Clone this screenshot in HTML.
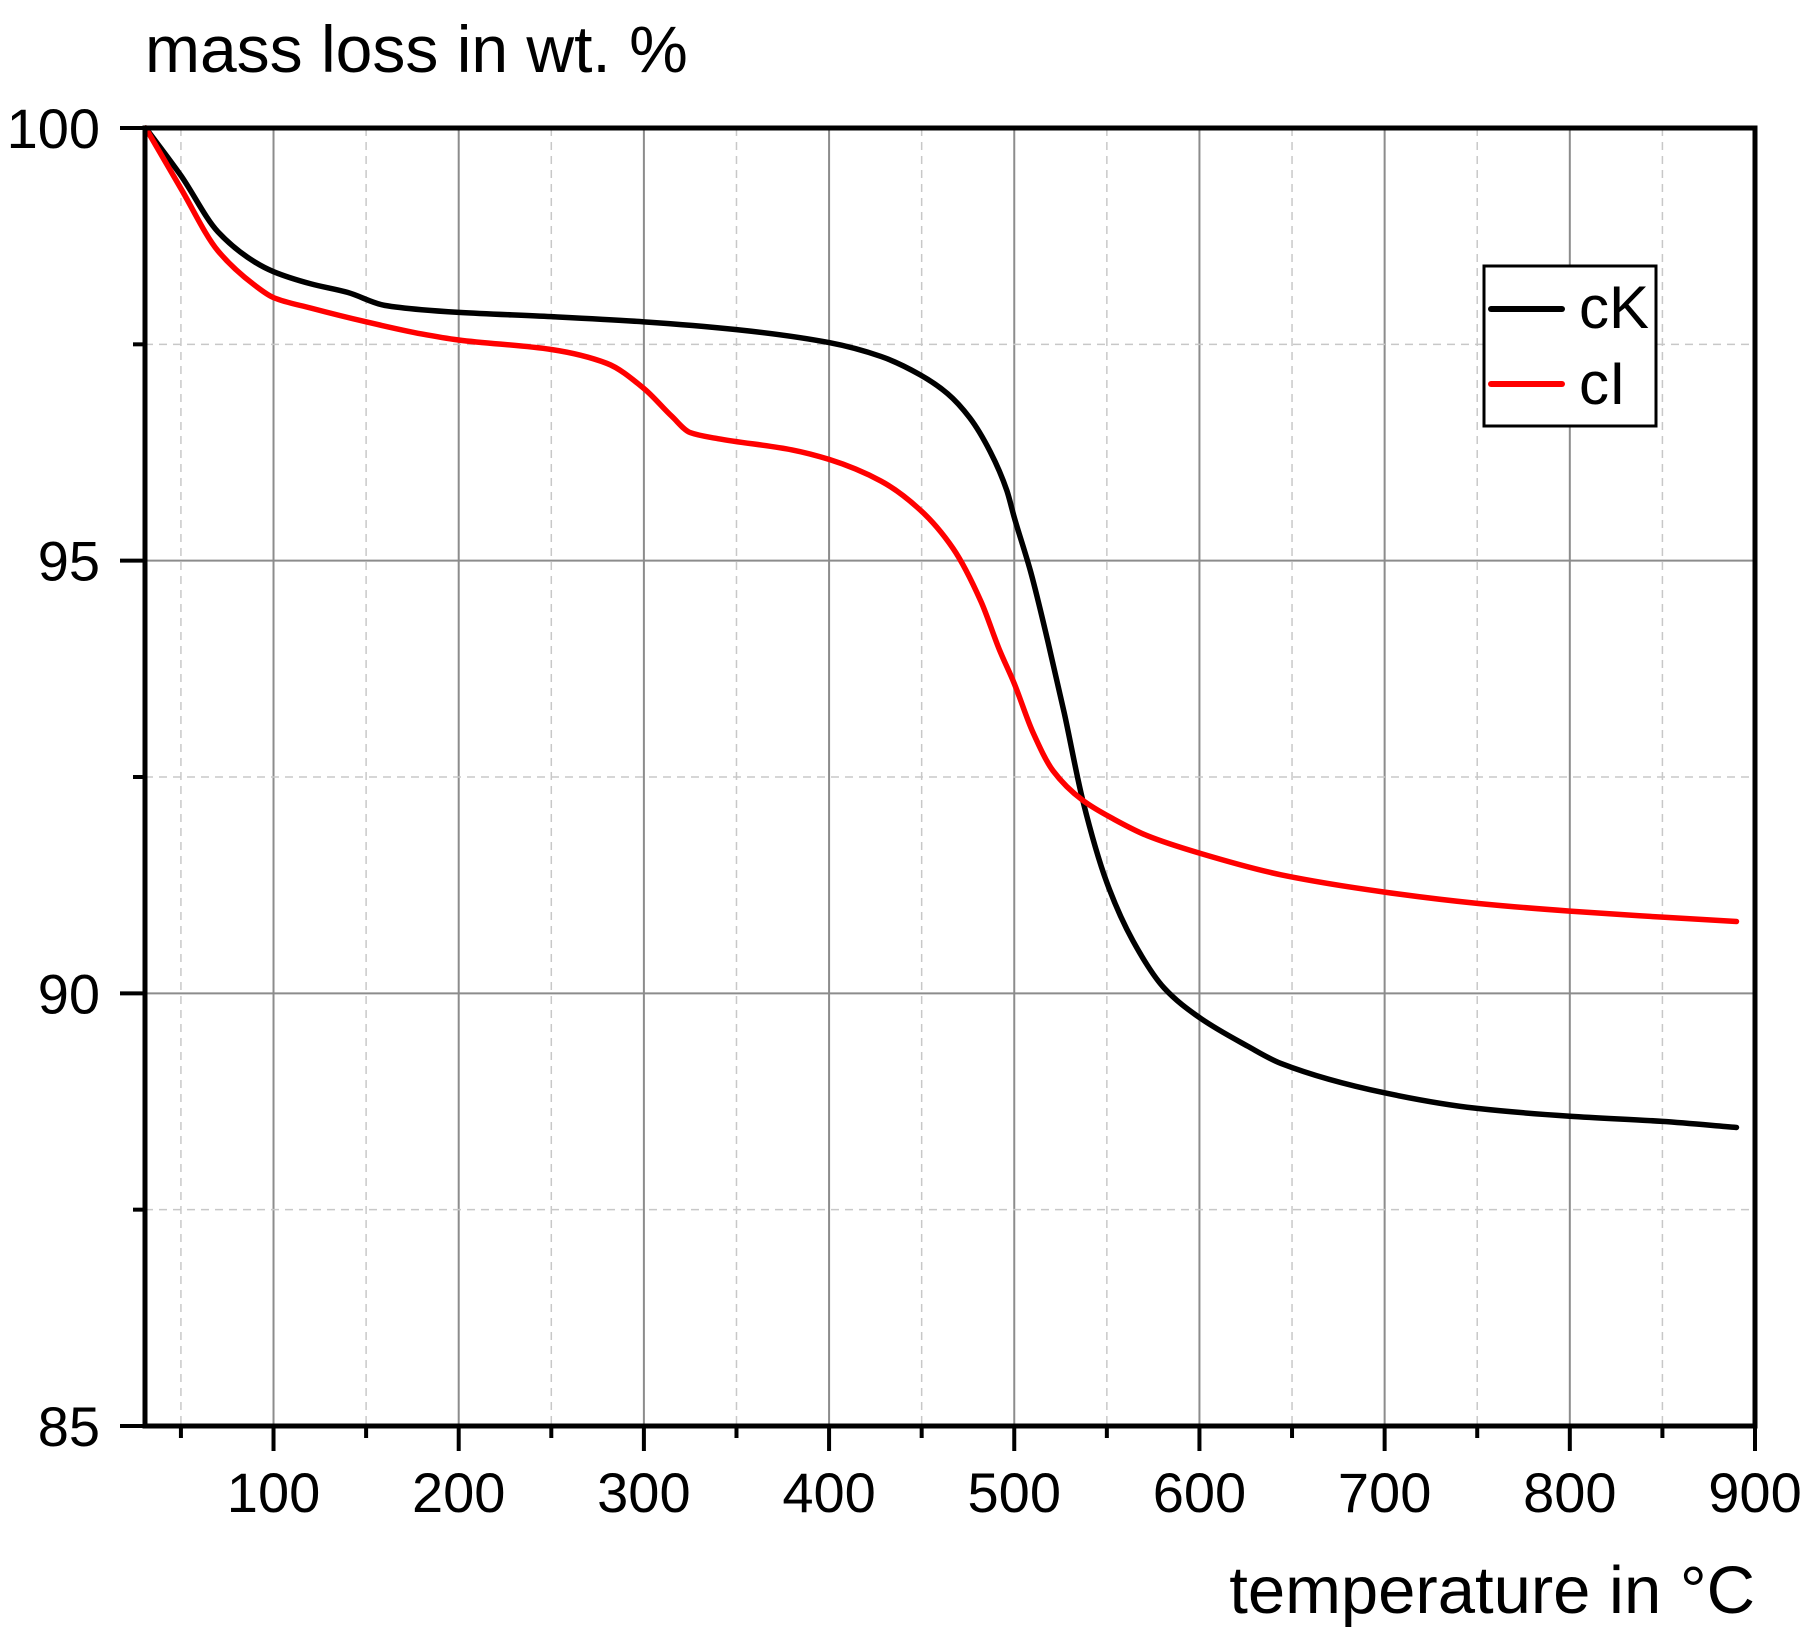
<!DOCTYPE html>
<html><head><meta charset="utf-8"><style>
html,body{margin:0;padding:0;background:#fff;}
svg{display:block;font-family:"Liberation Sans",Arial,sans-serif;}
</style></head><body>
<svg id="chart" width="1819" height="1648" viewBox="0 0 1819 1648" xmlns="http://www.w3.org/2000/svg">
<g id="grid"></g>
<g id="series"></g>
<g id="axes"></g>
<text x="145" y="72" font-size="66">mass loss in wt. %</text>
<text x="1755" y="1613" font-size="67" text-anchor="end">temperature in °C</text>
<g>
<rect x="1484" y="266" width="172" height="160" fill="#fff" stroke="#000" stroke-width="3"/>
<line x1="1491" y1="309" x2="1562" y2="309" stroke="#000" stroke-width="6" stroke-linecap="round"/>
<text x="1579" y="328" font-size="60">cK</text>
<line x1="1491" y1="384" x2="1562" y2="384" stroke="#f00" stroke-width="6" stroke-linecap="round"/>
<text x="1579" y="404" font-size="60">cI</text>
</g>
</svg>
<script>
const xTicks=[100,200,300,400,500,600,700,800,900];
const yTicks=[85,90,95,100];
const temps=[31,50,70,90,100,120,140,160,180,200,250,300,350,400,428,449,464,476,487,496,500,509,518,527,537,550,564,581,600,626,644,700,750,800,850,890];
const massCK=[100,99.45,98.8,98.45,98.34,98.2,98.1,97.95,97.9,97.87,97.82,97.76,97.67,97.52,97.36,97.15,96.93,96.65,96.26,95.81,95.5,94.86,94.08,93.24,92.23,91.28,90.61,90.06,89.72,89.39,89.19,88.85,88.67,88.58,88.52,88.45];
const tempsCI=[31,50,70,90,100,120,150,180,200,250,280,300,315,325,340,380,400,428,449,467,482,492,500,510,521,537,554,572,600,644,700,750,800,850,890];
const massCI=[100,99.3,98.58,98.18,98.04,97.92,97.76,97.62,97.55,97.44,97.28,96.99,96.67,96.48,96.41,96.28,96.17,95.92,95.59,95.14,94.53,93.97,93.58,93.02,92.57,92.23,92.01,91.82,91.62,91.37,91.17,91.04,90.95,90.88,90.83];

const L=145,R=1755,T=128,B=1426,XMIN=30.6,XMAX=900,YMIN=85,YMAX=100;
const sx=v=>L+(v-XMIN)/(XMAX-XMIN)*(R-L);
const sy=v=>B-(v-YMIN)/(YMAX-YMIN)*(B-T);
const NS='http://www.w3.org/2000/svg';
function mk(tag,parent,attrs){const e=document.createElementNS(NS,tag);for(const k in attrs)e.setAttribute(k,attrs[k]);parent.appendChild(e);return e;}
const grid=document.getElementById('grid'),axes=document.getElementById('axes'),series=document.getElementById('series');

for(let v=50;v<=850;v+=50){
  const major=v%100===0;
  const l=mk('line',grid,{x1:sx(v),x2:sx(v),y1:T,y2:B,stroke:major?'#8c8c8c':'#c8c8c8','stroke-width':major?2:1.5,'stroke-dasharray':major?'none':'8 6'});
  
  
}
for(let v=87.5;v<100;v+=2.5){
  const major=v%5===0;
  const l=mk('line',grid,{x1:L,x2:R,y1:sy(v),y2:sy(v),stroke:major?'#8c8c8c':'#c8c8c8','stroke-width':major?2:1.5,'stroke-dasharray':major?'none':'8 6'});
  
  
}
// monotone cubic (Fritsch-Carlson) interpolation in data space
function monotonePath(xs,ys){
  const n=xs.length,d=[],m=new Array(n);
  for(let i=0;i<n-1;i++)d.push((ys[i+1]-ys[i])/(xs[i+1]-xs[i]));
  m[0]=d[0];m[n-1]=d[n-2];
  for(let i=1;i<n-1;i++){
    if(d[i-1]*d[i]<=0)m[i]=0;
    else{const w1=2*(xs[i+1]-xs[i])+(xs[i]-xs[i-1]),w2=(xs[i+1]-xs[i])+2*(xs[i]-xs[i-1]);m[i]=(w1+w2)/(w1/d[i-1]+w2/d[i]);}
  }
  let path='M'+sx(xs[0]).toFixed(2)+','+sy(ys[0]).toFixed(2);
  for(let i=0;i<n-1;i++){
    const h=xs[i+1]-xs[i];
    const c1x=xs[i]+h/3,c1y=ys[i]+m[i]*h/3,c2x=xs[i+1]-h/3,c2y=ys[i+1]-m[i+1]*h/3;
    path+=' C'+sx(c1x).toFixed(2)+','+sy(c1y).toFixed(2)+' '+sx(c2x).toFixed(2)+','+sy(c2y).toFixed(2)+' '+sx(xs[i+1]).toFixed(2)+','+sy(ys[i+1]).toFixed(2);
  }
  return path;
}
const ck=mk('path',series,{d:monotonePath(temps,massCK),fill:'none',stroke:'#000','stroke-width':5.5,'stroke-linejoin':'round','stroke-linecap':'round'});


const ci=mk('path',series,{d:monotonePath(tempsCI,massCI),fill:'none',stroke:'#f00','stroke-width':5.5,'stroke-linejoin':'round','stroke-linecap':'round'});



const fr=mk('rect',axes,{x:L,y:T,width:R-L,height:B-T,fill:'none',stroke:'#000','stroke-width':5});


for(let v=50;v<=900;v+=50){
  const major=v%100===0;
  const t=mk('line',axes,{x1:sx(v),x2:sx(v),y1:B,y2:B+(major?25:12),stroke:'#000','stroke-width':4});
  
  
}
xTicks.forEach(v=>{
  const t=mk('text',axes,{x:sx(v),y:1512,'font-size':56,'text-anchor':'middle'});
  t.textContent=v;
  
  
});
for(let v=85;v<=100;v+=2.5){
  const major=v%5===0;
  const t=mk('line',axes,{x1:L-(major?25:12),x2:L,y1:sy(v),y2:sy(v),stroke:'#000','stroke-width':4});
  
  
}
yTicks.forEach(v=>{
  const t=mk('text',axes,{x:100,y:sy(v)+20,'font-size':56,'text-anchor':'end'});
  t.textContent=v;
  
  
});
</script>
</body></html>
